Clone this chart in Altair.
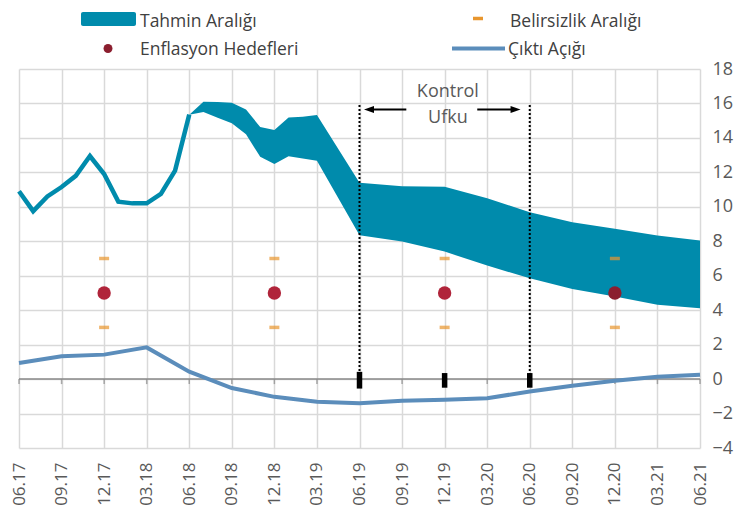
import json
import altair as alt
import pandas as pd

# ---------------- data ----------------
quarter_labels = ["06.17", "09.17", "12.17", "03.18", "06.18", "09.18", "12.18", "03.19",
                  "06.19", "09.19", "12.19", "03.20", "06.20", "09.20", "12.20", "03.21", "06.21"]
quarter_months = [0, 3, 6, 9, 12, 15, 18, 21, 24, 27, 30, 33, 36, 39, 42, 45, 48]

# realised inflation (monthly, month 0 = 06.17)
hist_months = [0, 1, 2, 3, 4, 5, 6, 7, 8, 9, 10, 11, 12]
hist_cpi = [10.9, 9.75, 10.6, 11.15, 11.8, 12.95, 11.9, 10.3, 10.2, 10.2, 10.75, 12.1, 15.35]

# forecast range (Tahmin Aralığı)
band_months = [12, 13, 14, 15, 16, 17, 18, 19, 20, 21, 24, 27, 30, 33, 36, 39, 42, 45, 48]
band_low = [15.35, 15.5, 15.17, 14.85, 14.21, 12.9, 12.48, 12.94, 12.81, 12.67,
            8.35, 7.98, 7.40, 6.59, 5.85, 5.23, 4.79, 4.31, 4.11]
band_high = [15.35, 16.1, 16.08, 16.04, 15.65, 14.63, 14.46, 15.19, 15.23, 15.33,
             11.4, 11.19, 11.17, 10.5, 9.68, 9.1, 8.72, 8.33, 8.04]

# output gap (Çıktı Açığı), quarterly
output_gap = [0.93, 1.32, 1.42, 1.84, 0.43, -0.52, -1.03, -1.32, -1.40, -1.26, -1.20,
              -1.11, -0.72, -0.39, -0.10, 0.14, 0.25]

# inflation targets and uncertainty range
target_months = [6, 18, 30, 42]
target_values = [5, 5, 5, 5]
uncert_low = [3, 3, 3, 3]
uncert_high = [7, 7, 7, 7]

# control horizon annotation
horizon_months = [24, 36]
horizon_top = [15.95, 15.95]
marker_months = [24, 30, 36]
marker_low = [-0.55, -0.5, -0.5]
marker_high = [0.42, 0.35, 0.35]
arrow_y = 15.65
arrow_left = {"tip": 24.67, "from": 24.95, "to": 27.3}
arrow_right = {"tip": 35.0, "from": 32.3, "to": 34.7}
label_x = 30.23
label_lines = ["Kontrol", "Ufku"]
label_y = [16.36, 14.87]

# ---------------- style ----------------
TEAL = "#008BAC"
BLUE = "#5B8DBB"
ORANGE = "#E8962E"
RED = "#B0243A"
DARKRED = "#8B1E2F"
FONT = "Open Sans"
TXT = "#595959"
LEG = "#404040"

W, H = 681, 379

xscale = alt.Scale(domain=[0, 48], nice=False, zero=False)
yscale = alt.Scale(domain=[-4, 18], nice=False, zero=False)

label_expr = json.dumps(quarter_labels) + "[round(datum.value / 3)]"

xaxis = alt.Axis(values=quarter_months, grid=True, gridColor="#D9D9D9", gridWidth=1.5,
                 domain=False, ticks=False, tickSize=0, labelAngle=270, labelPadding=14,
                 labelFontSize=17, labelFont=FONT, labelColor=TXT, labelExpr=label_expr,
                 labelAlign="right", labelBaseline="middle", title=None, labelOverlap=False)
yaxis = alt.Axis(orient="right", values=list(range(-4, 19, 2)), grid=True, gridColor="#D9D9D9",
                 gridWidth=1.5, domain=False, ticks=False, tickSize=0, labelPadding=12,
                 labelFontSize=18, labelFont=FONT, labelColor=TXT, labelAlign="left",
                 title=None)


def X(field):
    return alt.X(field, type="quantitative", scale=xscale, axis=xaxis, title=None)


def Y(field):
    return alt.Y(field, type="quantitative", scale=yscale, axis=yaxis, title=None)


hist_df = pd.DataFrame({"m": hist_months, "v": hist_cpi})
band_df = pd.DataFrame({"m": band_months, "lo": band_low, "hi": band_high})
gap_df = pd.DataFrame({"m": quarter_months, "v": output_gap})
tgt_df = pd.DataFrame({"m": target_months, "t": target_values, "lo": uncert_low, "hi": uncert_high})
hor_df = pd.DataFrame({"m": horizon_months, "y0": [0, 0], "y1": horizon_top})
mk_df = pd.DataFrame({"m": marker_months, "lo": marker_low, "hi": marker_high})
zero_df = pd.DataFrame({"a": [quarter_months[0]], "b": [quarter_months[-1]], "y": [0]})
qt_df = pd.DataFrame({"m": quarter_months, "y": [0] * len(quarter_months)})
arr_df = pd.DataFrame({"a": [arrow_left["from"], arrow_right["from"]],
                       "b": [arrow_left["to"], arrow_right["to"]],
                       "y": [arrow_y, arrow_y]})
tipL_df = pd.DataFrame({"m": [arrow_left["tip"]], "y": [arrow_y]})
tipR_df = pd.DataFrame({"m": [arrow_right["tip"]], "y": [arrow_y]})
lab_df = pd.DataFrame({"m": [label_x] * 2, "y": label_y, "t": label_lines})
one = pd.DataFrame({"k": [0]})

band = alt.Chart(band_df).mark_area(color=TEAL, opacity=1, strokeWidth=0).encode(
    x=X("m"), y=Y("lo"), y2="hi")
hist = alt.Chart(hist_df).mark_line(color=TEAL, strokeWidth=4.5, strokeJoin="miter").encode(
    x=X("m"), y=Y("v"))
zero = alt.Chart(zero_df).mark_rule(color="#888888", strokeWidth=1.5).encode(
    x=X("a"), x2="b", y=Y("y"))
qticks = alt.Chart(qt_df).mark_tick(orient="vertical", color="#888888", size=5,
                                    thickness=1.5, yOffset=2.5).encode(x=X("m"), y=Y("y"))
gap = alt.Chart(gap_df).mark_line(color=BLUE, strokeWidth=4).encode(x=X("m"), y=Y("v"))
hor = alt.Chart(hor_df).mark_rule(color="black", strokeWidth=2, strokeDash=[2, 2]).encode(
    x=X("m"), y=Y("y0"), y2="y1")
mk = alt.Chart(mk_df).mark_rule(color="black", strokeWidth=5.5).encode(
    x=X("m"), y=Y("lo"), y2="hi")
unc_hi = alt.Chart(tgt_df).mark_tick(orient="horizontal", color=ORANGE, size=10,
                                     thickness=3.5).encode(x=X("m"), y=Y("hi"))
unc_lo = alt.Chart(tgt_df).mark_tick(orient="horizontal", color=ORANGE, size=10,
                                     thickness=3.5).encode(x=X("m"), y=Y("lo"))
dots = alt.Chart(tgt_df).mark_circle(size=180, opacity=1).encode(
    x=X("m"), y=Y("t"),
    color=alt.condition("datum.m >= 42", alt.value(DARKRED), alt.value(RED)))
arr = alt.Chart(arr_df).mark_rule(color="black", strokeWidth=2).encode(
    x=X("a"), x2="b", y=Y("y"))
tipL = alt.Chart(tipL_df).mark_point(shape="M-1,0L1,-0.7L1,0.7Z", filled=True, size=100,
                                     color="black", opacity=1).encode(x=X("m"), y=Y("y"))
tipR = alt.Chart(tipR_df).mark_point(shape="M1,0L-1,-0.7L-1,0.7Z", filled=True, size=100,
                                     color="black", opacity=1).encode(x=X("m"), y=Y("y"))
labs = alt.Chart(lab_df).mark_text(font=FONT, fontSize=18, color=TXT, align="center",
                                   baseline="alphabetic").encode(x=X("m"), y=Y("y"), text="t:N")

# ---------------- legend (drawn by hand) ----------------
leg_rect = alt.Chart(one).mark_rect(color=TEAL, cornerRadius=2).encode(
    x=alt.value(62), x2=alt.value(117), y=alt.value(-57), y2=alt.value(-43))
leg_dash = alt.Chart(one).mark_rule(color=ORANGE, strokeWidth=3.5).encode(
    x=alt.value(454), x2=alt.value(464), y=alt.value(-50.5))
leg_dot = alt.Chart(one).mark_circle(color=DARKRED, size=80, opacity=1).encode(
    x=alt.value(89), y=alt.value(-20.5))
leg_line = alt.Chart(one).mark_rule(color=BLUE, strokeWidth=4).encode(
    x=alt.value(433), x2=alt.value(486), y=alt.value(-20.5))


def leg_text(t, x, y):
    return alt.Chart(one).mark_text(text=t, font=FONT, fontSize=17.5, color=LEG, align="left",
                                    baseline="alphabetic").encode(x=alt.value(x), y=alt.value(y))


legend = [leg_rect, leg_dash, leg_dot, leg_line,
          leg_text("Tahmin Aralığı", 121, -42),
          leg_text("Belirsizlik Aralığı", 491, -42),
          leg_text("Enflasyon Hedefleri", 121, -14),
          leg_text("Çıktı Açığı", 489, -14)]

chart = alt.layer(band, hist, zero, qticks, gap, hor, mk, unc_hi, unc_lo, dots,
                  arr, tipL, tipR, labs, *legend).properties(
    width=W, height=H,
    autosize=alt.AutoSizeParams(type="none"),
    padding={"left": 11, "top": 61, "right": 34, "bottom": 59},
).configure_view(stroke=None)

chart.save("out.html", embed_options={"renderer": "svg", "actions": False})
